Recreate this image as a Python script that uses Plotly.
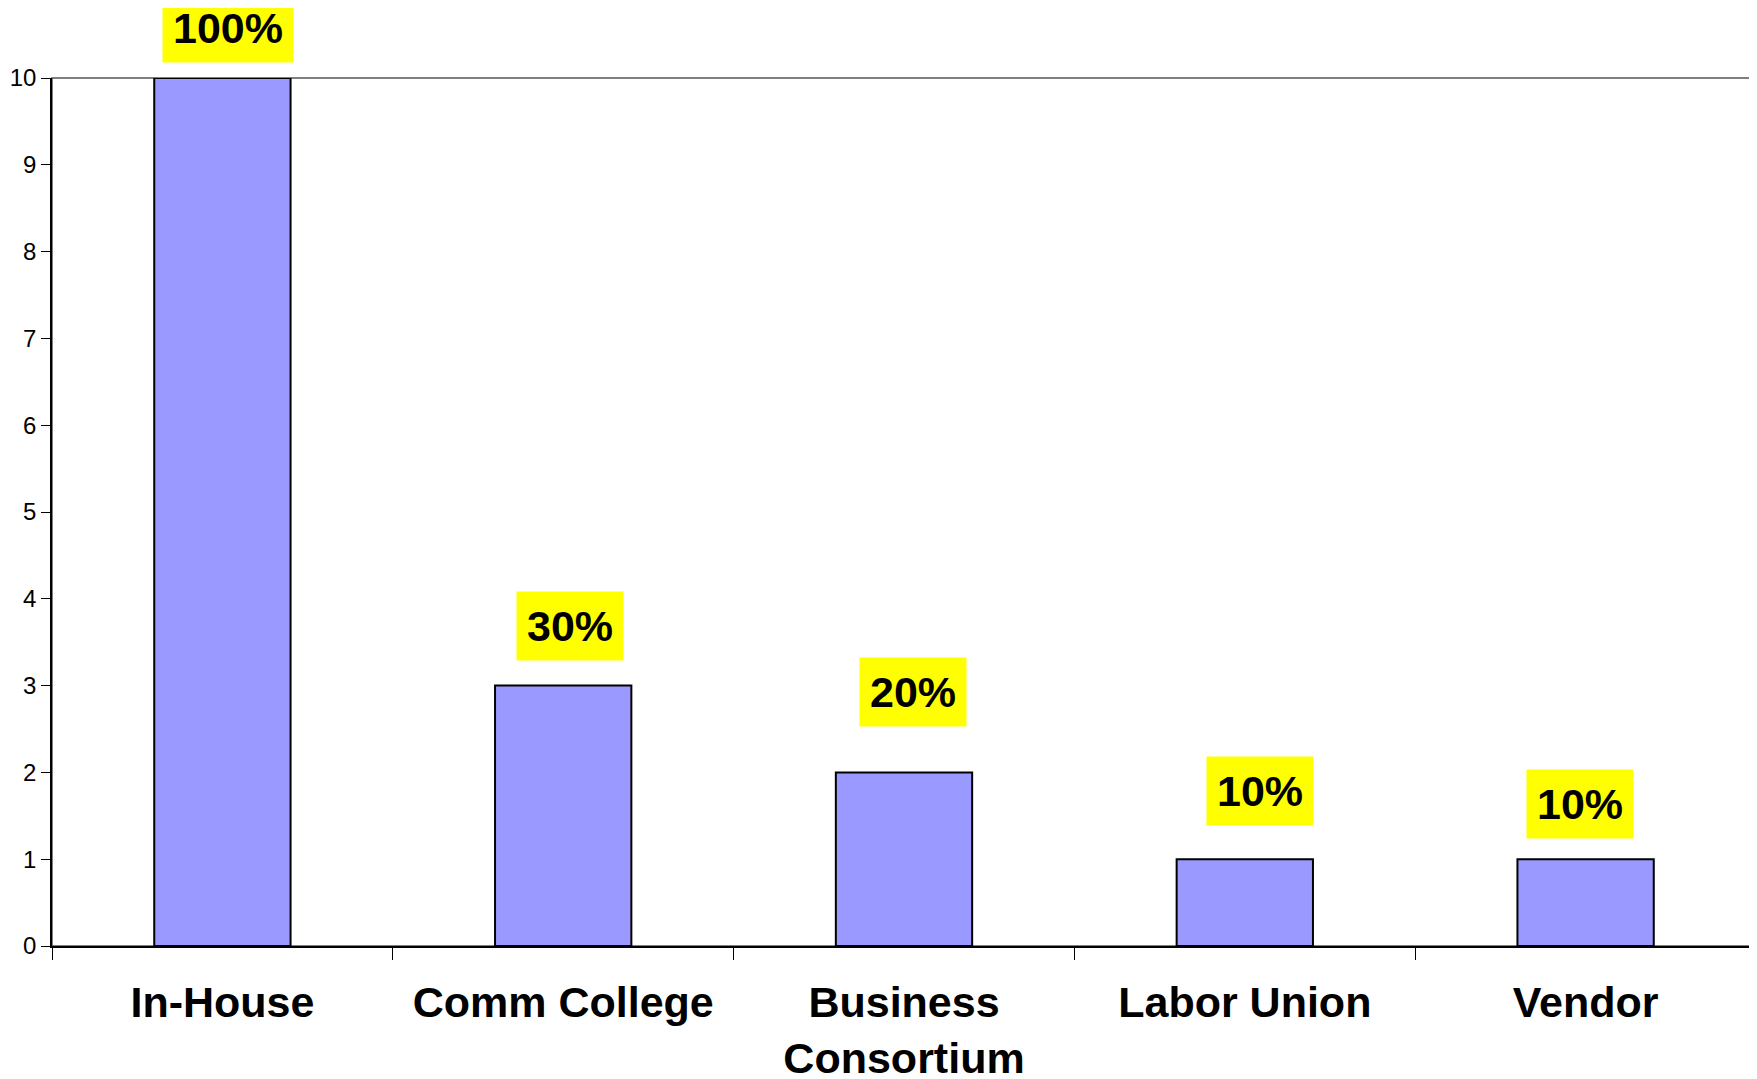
import plotly.graph_objects as go

# categories and values
providers = ['In-House', 'Comm College', 'Business<br>Consortium', 'Labor Union', 'Vendor']
counts = [10, 3, 2, 1, 1]
pct_labels = ['100%', '30%', '20%', '10%', '10%']

# label placement tweaks (pixels)
label_lift = [50, 60, 80, 68, 55]
label_nudge = [6, 7, 9, 15, -6]

fig = go.Figure()

fig.add_trace(go.Bar(x=providers, y=counts,
                     marker=dict(color='#9999FF', line=dict(color='black', width=2)),
                     showlegend=False))

# yellow percentage boxes above the bars
for cat, val, txt, dy, dx in zip(providers, counts, pct_labels, label_lift, label_nudge):
    fig.add_annotation(x=cat, y=val, text='<b>' + txt + '</b>', showarrow=False,
                       yanchor='middle', yshift=dy, xshift=dx,
                       font=dict(family='Liberation Sans, Arial', size=43, color='black'),
                       bgcolor='#FFFF00', borderpad=10)

# plot area frame (top / right edges)
fig.add_shape(type='rect', xref='paper', yref='paper', x0=0, y0=0, x1=1, y1=1,
              line=dict(color='#555555', width=1.5), layer='below')

fig.update_layout(width=1749, height=1071,
                  margin=dict(l=44, r=1, t=70, b=133),
                  paper_bgcolor='white', plot_bgcolor='white',
                  bargap=0.6,
                  font=dict(family='Liberation Sans, Arial', color='black'),
                  xaxis=dict(showline=True, linecolor='black', linewidth=1.5,
                             ticks='outside', tickson='boundaries', ticklen=12, tickcolor='black',
                             ticklabelstandoff=18, automargin=False,
                             tickfont=dict(size=43, family='Liberation Sans, Arial'),
                             showgrid=False),
                  yaxis=dict(range=[0, 10], dtick=1, showline=True, linecolor='black', linewidth=1.5,
                             ticks='outside', ticklen=9, tickcolor='black', automargin=False,
                             tickfont=dict(size=24), showgrid=False, zeroline=False))

# bold category labels
fig.update_xaxes(ticktext=['<b>' + p + '</b>' for p in providers], tickvals=providers)

fig.write_html("out.html", config={'responsive': False})
